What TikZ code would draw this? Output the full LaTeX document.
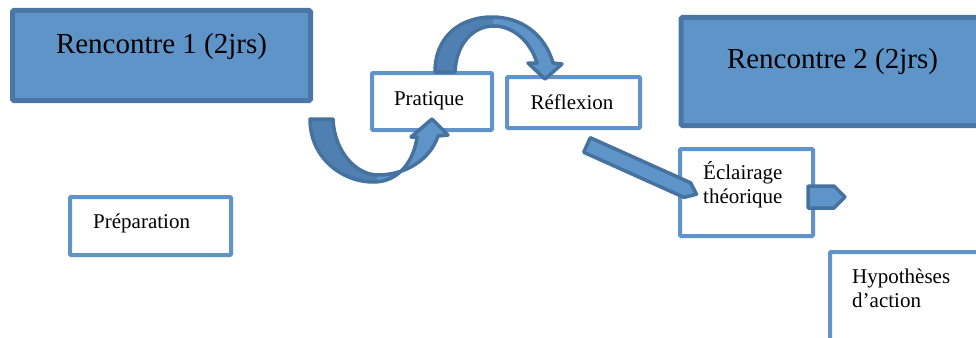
\documentclass[tikz,border=0pt]{standalone}
\usepackage{fontspec}
\setmainfont{Liberation Serif}
\usetikzlibrary{calc}
\definecolor{fillblue}{HTML}{5F94C9}
\definecolor{edgeblue}{HTML}{4A76A6}
\definecolor{lineblue}{HTML}{5F93CA}
\definecolor{arrowedge}{HTML}{46729F}
\definecolor{backface}{HTML}{5080B2}

% outlines of the two curved block arrows
\newcommand\uarrowshape{(310,119) .. controls (310,160) and (345,183) .. (375,182)
  .. controls (400,181) and (414,160) .. (417,137) -- (411,137) -- (432,119)
  -- (448,135) -- (438,136) .. controls (430,160) and (405,175) .. (378,175)
  .. controls (355,175) and (334,150) .. (333,119) -- cycle}
\newcommand\archarrowshape{(435,72) .. controls (435,35) and (462,17) .. (492,17)
  .. controls (522,17) and (545,35) .. (553,63) -- (562,64) -- (545,79)
  -- (528,63) -- (537,63) .. controls (530,40) and (512,26) .. (494,26)
  .. controls (472,26) and (456,45) .. (455,72) -- cycle}

\begin{document}
\begin{tikzpicture}[x=1pt,y=-1pt,
  bigbox/.style={draw=edgeblue, fill=fillblue, line width=5pt, rounded corners=1.5pt, inner sep=0pt},
  smallbox/.style={draw=lineblue, fill=white, line width=4pt, rounded corners=1pt, inner sep=0pt},
  bigtext/.style={font=\fontsize{29}{34}\selectfont, anchor=base, inner sep=0pt},
  boxtext/.style={font=\fontsize{21}{23.5}\selectfont, anchor=base west, inner sep=0pt, align=left},
  midtext/.style={font=\fontsize{21}{23.5}\selectfont, anchor=base, inner sep=0pt},
  blockarrow/.style={fill=fillblue, draw=arrowedge, line width=3.5pt, line join=round},
  arrowline/.style={draw=arrowedge, line width=3.5pt, line join=round}]

\useasboundingbox (0,0) rectangle (976,337);
\clip (0,0) rectangle (976,337);

% session boxes
\node[bigbox, minimum width=298pt, minimum height=90pt] (r1) at (161.5,55.5) {};
\node[bigtext] (r1t) at (161.5,53) {Rencontre 1 (2jrs)};
\node[bigbox, minimum width=304pt, minimum height=108pt] (r2) at (833,71.5) {};
\node[bigtext] (r2t) at (832.5,68) {Rencontre 2 (2jrs)};

% step boxes (multi-line labels are anchored on their last line)
\node[smallbox, minimum width=161pt, minimum height=58pt] (prep) at (150.5,226) {};
\node[boxtext] (prept) at (93,228) {Préparation};

\node[smallbox, minimum width=120pt, minimum height=57pt] (prat) at (432,101.5) {};
\node[midtext] (pratt) at (429,105) {Pratique};

\node[smallbox, minimum width=133pt, minimum height=51pt] (refl) at (573.5,102.5) {};
\node[midtext] (reflt) at (572,109) {Réflexion};

\node[smallbox, minimum width=133pt, minimum height=87pt] (ecl) at (746.5,192.5) {};
\node[boxtext] (eclt) at (703,203) {Éclairage\\théorique};

\node[smallbox, minimum width=160pt, minimum height=100pt] (hyp) at (910,302) {};
\node[boxtext] (hypt) at (852,307) {Hypothèses\\d’action};

% curved arrow from below up into Pratique, darker back face on the left
\fill[fillblue] \uarrowshape;
\begin{scope}
  \clip (300,100) rectangle (377,190);
  \fill[backface] \uarrowshape;
\end{scope}
\draw[arrowline] \uarrowshape;

% arched arrow from Pratique over to Réflexion, darker back face on the left
\fill[fillblue] \archarrowshape;
\begin{scope}
  \clip (420,5) rectangle (493,80);
  \fill[backface] \archarrowshape;
\end{scope}
\draw[arrowline] \archarrowshape;

% straight arrow from Réflexion down to Éclairage théorique
\begin{scope}[shift={(587,145)}, rotate=-24.2]
  \draw[blockarrow] (0,-8) -- (110,-8) -- (120,0) -- (110,8) -- (0,8) -- cycle;
\end{scope}

% short arrow leaving Éclairage théorique
\draw[blockarrow] (808,186) -- (834,186) -- (845,197) -- (834,208) -- (808,208) -- cycle;

\end{tikzpicture}
\end{document}
